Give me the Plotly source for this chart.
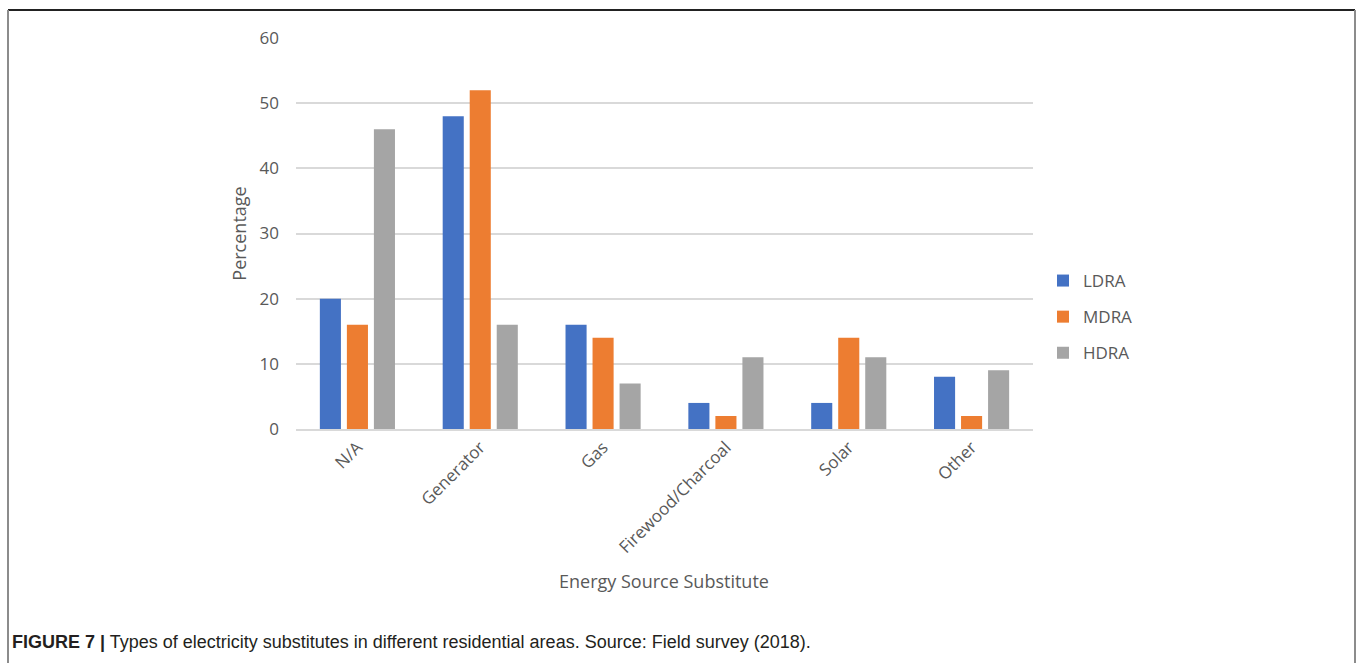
import plotly.graph_objects as go

# Energy source substitutes by residential area (percent of respondents)
categories = ["N/A", "Generator", "Gas", "Firewood/Charcoal", "Solar", "Other"]
ldra = [20, 48, 16, 4, 4, 8]
mdra = [16, 52, 14, 2, 14, 2]
hdra = [46, 16, 7, 11, 11, 9]
y_ticks = [0, 10, 20, 30, 40, 50, 60]

series = [("LDRA", ldra, "#4472C4"), ("MDRA", mdra, "#ED7D31"), ("HDRA", hdra, "#A5A5A5")]

W, H = 1357, 663
L, R, T, B = 296, 1033, 38, 429  # plot area in pixels


def px(x):
    return (x - L) / (R - L)


def py(y):
    return (B - y) / (B - T)


fig = go.Figure()
for name, vals, color in series:
    fig.add_trace(go.Bar(
        x=categories, y=vals, name=name, marker_color=color,
        legendgroup=name, marker_line_width=0,
    ))

font_main = "Open Sans, DejaVu Sans, sans-serif"
grey_text = "#595959"

fig.update_layout(
    width=W, height=H,
    margin=dict(l=L, r=W - R, t=T, b=H - B),
    plot_bgcolor="white", paper_bgcolor="white",
    barmode="group", bargap=0.34, bargroupgap=0.22,
    font=dict(family=font_main, color=grey_text),
    legend=dict(
        x=px(1043), y=py(317), xanchor="left", yanchor="middle",
        traceorder="grouped", tracegroupgap=11,
        font=dict(size=17, color=grey_text, family=font_main),
        itemwidth=30,
    ),
    xaxis=dict(
        tickangle=-45, tickfont=dict(size=17, color=grey_text),
        showline=True, linecolor="#D9D9D9", linewidth=1.5,
        showgrid=False, ticks="",
    ),
    yaxis=dict(
        range=[0, 60], tickvals=y_ticks, showline=False,
        gridcolor="#D9D9D9", gridwidth=1.5, zeroline=False,
        tickfont=dict(size=17, color=grey_text), ticks="",
        ticklabelstandoff=16,
        title=dict(text="Percentage", font=dict(size=18, color=grey_text), standoff=8),
    ),
    annotations=[
        dict(text="Energy Source Substitute", x=px(664), y=py(581), xref="paper", yref="paper",
             showarrow=False, xanchor="center", yanchor="middle",
             font=dict(size=18, color=grey_text, family=font_main)),
        dict(text="<b>FIGURE 7 |</b> Types of electricity substitutes in different residential areas. Source: Field survey (2018).",
             x=px(10), y=py(642), xref="paper", yref="paper", showarrow=False,
             xanchor="left", yanchor="middle",
             font=dict(size=18, color="#231F20", family="Liberation Sans Narrow, Arial Narrow, Liberation Sans, sans-serif")),
    ],
    shapes=[
        dict(type="line", xref="paper", yref="paper", x0=px(8), x1=px(1355), y0=py(10), y1=py(10),
             line=dict(color="#222222", width=2)),
        dict(type="line", xref="paper", yref="paper", x0=px(8), x1=px(8), y0=py(10), y1=py(663),
             line=dict(color="#8C8C8C", width=2)),
        dict(type="line", xref="paper", yref="paper", x0=px(1355), x1=px(1355), y0=py(10), y1=py(663),
             line=dict(color="#8C8C8C", width=2)),
    ],
)

fig.write_html("out.html")
